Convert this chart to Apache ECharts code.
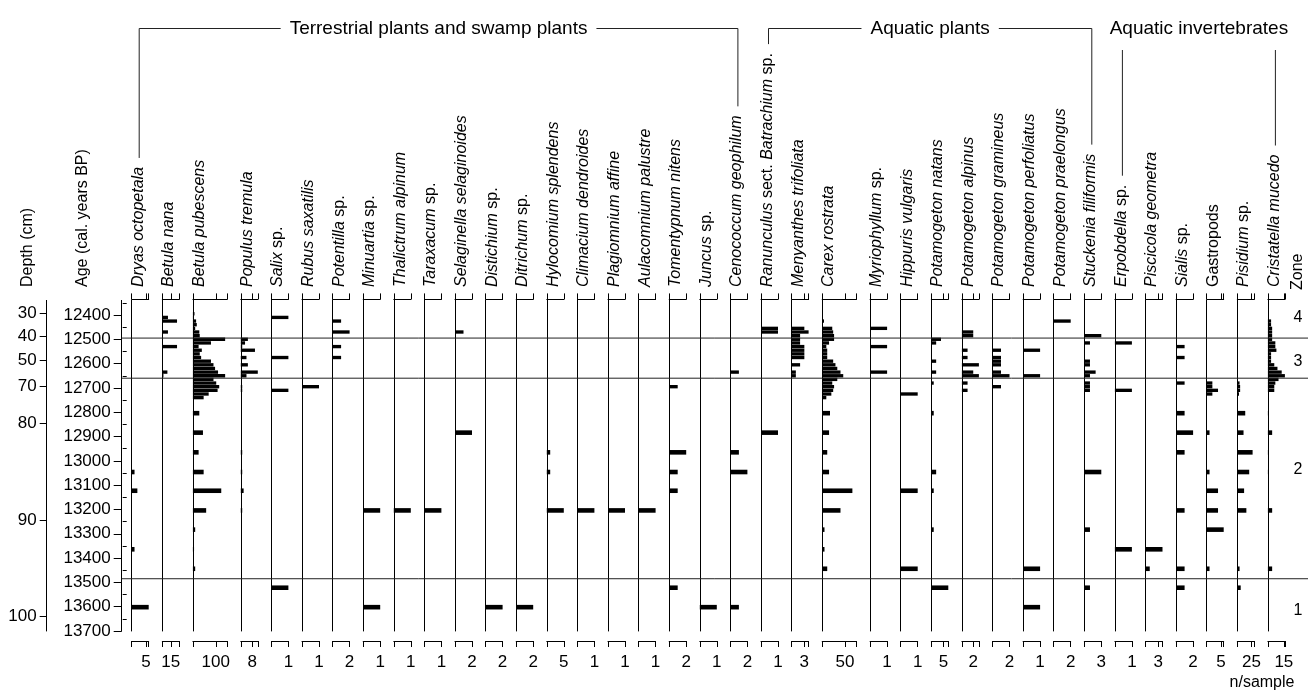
<!DOCTYPE html>
<html>
<head>
<meta charset="utf-8">
<script src="https://cdn.jsdelivr.net/npm/echarts@6/dist/echarts.min.js"></script>
<style>
  html, body { margin: 0; padding: 0; background: #fff; }
  #chart { width: 1316px; height: 691px; }
</style>
</head>
<body>
<div id="chart"></div>
<script>
// ---- Samples (cal. years BP) ----
const sampleAges = [
  12395, 12410, 12425, 12440, 12455, 12470, 12485, 12500, 12515, 12530, 12545, 12560,
  12575, 12590, 12605, 12620, 12635, 12650, 12665, 12680, 12695, 12710, 12725, 12740,
  12804, 12884, 12965, 13046, 13123, 13204, 13283, 13364, 13444, 13522, 13602
];

// ---- Depth scale (cm) and the ages they fall at ----
const depthTicks = [30, 40, 50, 70, 80, 90, 100];
const depthTickAges = [12393, 12489, 12585, 12695, 12845, 13243, 13641];

// ---- Age scale ----
const ageTicks = [12400, 12500, 12600, 12700, 12800, 12900, 13000, 13100, 13200, 13300, 13400, 13500, 13600, 13700];
const ageMinorTicks = [12350, 12450, 12550, 12650, 12750, 12850, 12950, 13050, 13150, 13250, 13350, 13450, 13550, 13650];

// ---- Zones ----
const zoneBoundaries = [12495, 12660, 13485];
const zoneNames = ['4', '3', '2', '1'];
const zoneLabelAges = [12412, 12593, 13038, 13618];

// ---- Taxa (n/sample) ----
const dryasOctopetala = [0,0,0,0,0,0, 0,0,0,0,0,0, 0,0,0,0,0,0, 0,0,0,0,0,0, 0,0,0,1,2,0,0,1,0,0,6];
const betulaNana = [0,10,26,0,0,10, 0,0,0,26,0,0, 0,0,0,0,9,2, 0,0,0,0,0,0, 0,0,0,0,0,0,0,0,0,0,1];
const betulaPubescens = [7,3,14,17,10,28, 30,141,79,25,39,30, 36,79,90,97,110,141, 90,102,115,108,69,47, 28,44,25,47,124,58,10,5,10,0,0];
const populusTremula = [0,0,0,0,0,0, 0,5,3,1,10,0, 4,0,5,0,12,4, 0,0,1,1,0,0, 0,0,1,1,2,1,0,0,0,0,0];
const salix = [0,1,0,0,0,0, 0,0,0,0,0,0, 1,0,0,0,0,0, 0,0,0,1,0,0, 0,0,0,0,0,0,0,0,0,1,0];
const rubusSaxatilis = [0,0,0,0,0,0, 0,0,0,0,0,0, 0,0,0,0,0,0, 0,0,1,0,0,0, 0,0,0,0,0,0,0,0,0,0,0];
const potentilla = [0,0,1,0,0,2, 0,0,0,1,0,0, 1,0,0,0,0,0, 0,0,0,0,0,0, 0,0,0,0,0,0,0,0,0,0,0];
const minuartia = [0,0,0,0,0,0, 0,0,0,0,0,0, 0,0,0,0,0,0, 0,0,0,0,0,0, 0,0,0,0,0,1,0,0,0,0,1];
const thalictrumAlpinum = [0,0,0,0,0,0, 0,0,0,0,0,0, 0,0,0,0,0,0, 0,0,0,0,0,0, 0,0,0,0,0,1,0,0,0,0,0];
const taraxacum = [0,0,0,0,0,0, 0,0,0,0,0,0, 0,0,0,0,0,0, 0,0,0,0,0,0, 0,0,0,0,0,1,0,0,0,0,0];
const selaginella = [0,0,0,0,0,1, 0,0,0,0,0,0, 0,0,0,0,0,0, 0,0,0,0,0,0, 0,2,0,0,0,0,0,0,0,0,0];
const distichium = [0,0,0,0,0,0, 0,0,0,0,0,0, 0,0,0,0,0,0, 0,0,0,0,0,0, 0,0,0,0,0,0,0,0,0,0,2];
const ditrichum = [0,0,0,0,0,0, 0,0,0,0,0,0, 0,0,0,0,0,0, 0,0,0,0,0,0, 0,0,0,0,0,0,0,0,0,0,2];
const hylocomium = [0,0,0,0,0,0, 0,0,0,0,0,0, 0,0,0,0,0,0, 0,0,0,0,0,0, 0,0,1,1,0,5,0,0,0,0,0];
const climacium = [0,0,0,0,0,0, 0,0,0,0,0,0, 0,0,0,0,0,0, 0,0,0,0,0,0, 0,0,0,0,0,1,0,0,0,0,0];
const plagiomnium = [0,0,0,0,0,0, 0,0,0,0,0,0, 0,0,0,0,0,0, 0,0,0,0,0,0, 0,0,0,0,0,1,0,0,0,0,0];
const aulacomnium = [0,0,0,0,0,0, 0,0,0,0,0,0, 0,0,0,0,0,0, 0,0,0,0,0,0, 0,0,0,0,0,1,0,0,0,0,0];
const tomentypnum = [0,0,0,0,0,0, 0,0,0,0,0,0, 0,0,0,0,0,0, 0,0,1,0,0,0, 0,0,2,1,1,0,0,0,0,1,0];
const juncus = [0,0,0,0,0,0, 0,0,0,0,0,0, 0,0,0,0,0,0, 0,0,0,0,0,0, 0,0,0,0,0,0,0,0,0,0,1];
const cenococcum = [0,0,0,0,0,0, 0,0,0,0,0,0, 0,0,0,0,1,0, 0,0,0,0,0,0, 0,0,1,2,0,0,0,0,0,0,1];
const ranunculus = [0,0,0,0,1,1, 0,0,0,0,0,0, 0,0,0,0,0,0, 0,0,0,0,0,0, 0,1,0,0,0,0,0,0,0,0,0];
const menyanthes = [0,0,0,0,3,4, 2,2,2,3,3,3, 3,0,2,0,1,1, 0,0,0,0,0,0, 0,0,0,0,0,0,0,0,0,0,0];
const carexRostrata = [0,0,4,0,22,24, 26,26,15,9,11,11, 11,24,29,33,40,46, 33,22,26,24,20,9, 17,15,11,15,66,40,5,5,11,0,0];
const myriophyllum = [0,0,0,0,1,0, 0,0,0,1,0,0, 0,0,0,0,1,0, 0,0,0,0,0,0, 0,0,0,0,0,0,0,0,0,0,0];
const hippuris = [0,0,0,0,0,0, 0,0,0,0,0,0, 0,0,0,0,0,0, 0,0,0,0,1,0, 0,0,0,0,1,0,0,0,1,0,0];
const potNatans = [0,0,0,0,0,0, 0,4,2,0,0,0, 0,2,0,0,2,0, 0,1,0,0,0,0, 1,0,0,2,1,0,1,0,0,7,0];
const potAlpinus = [0,0,0,0,0,2, 2,0,0,0,1,0, 1,0,3,0,2,3, 0,1,0,1,0,0, 0,0,0,0,0,0,0,0,0,0,0];
const potGramineus = [0,0,0,0,0,0, 0,0,0,0,1,0, 1,1,1,0,1,2, 0,0,1,0,0,0, 0,0,0,0,0,0,0,0,0,0,0];
const potPerfoliatus = [0,0,0,0,0,0, 0,0,0,0,1,0, 0,0,0,0,0,1, 0,0,0,0,0,0, 0,0,0,0,0,0,0,0,1,0,1];
const potPraelongus = [0,0,2,0,0,0, 0,0,0,0,0,0, 0,0,0,0,0,0, 0,0,0,0,0,0, 0,0,0,0,0,0,0,0,0,0,0];
const stuckenia = [0,0,0,0,0,0, 3,0,1,0,0,0, 0,1,1,0,2,1, 0,1,1,1,0,0, 0,0,0,3,0,0,1,0,0,1,0];
const erpobdella = [0,0,0,0,0,0, 0,0,1,0,0,0, 0,0,0,0,0,0, 0,0,0,1,0,0, 0,0,0,0,0,0,0,1,0,0,0];
const piscicola = [0,0,0,0,0,0, 0,0,0,0,0,0, 0,0,0,0,0,0, 0,0,0,0,0,0, 0,0,0,0,0,0,0,4,1,0,0];
const sialis = [0,0,0,0,0,0, 0,0,0,1,0,0, 1,0,0,0,0,0, 0,1,0,0,0,0, 1,2,1,0,0,1,0,0,1,1,0];
const gastropods = [0,0,0,0,0,0, 0,0,0,0,0,0, 0,0,0,0,0,0, 0,2,2,4,2,0, 0,1,0,1,4,4,6,0,1,0,0];
const pisidium = [0,0,0,0,0,0, 0,0,0,0,0,0, 0,0,0,0,0,0, 0,4,5,5,3,0, 14,11,27,21,12,16,0,0,4,6,0];
const cristatella = [0,0,3,3,4,4, 4,4,7,7,8,3, 3,3,6,9,13,16, 10,7,6,6,0,0, 1,4,1,1,0,4,0,0,4,0,0];

const taxonLabels = [
  '{i|Dryas octopetala}', '{i|Betula nana}', '{i|Betula pubescens}', '{i|Populus tremula}',
  '{i|Salix} sp.', '{i|Rubus saxatilis}', '{i|Potentilla} sp.', '{i|Minuartia} sp.',
  '{i|Thalictrum alpinum}', '{i|Taraxacum} sp.', '{i|Selaginella selaginoides}', '{i|Distichium} sp.',
  '{i|Ditrichum} sp.', '{i|Hylocomium splendens}', '{i|Climacium dendroides}', '{i|Plagiomnium affine}',
  '{i|Aulacomnium palustre}', '{i|Tomentypnum nitens}', '{i|Juncus} sp.', '{i|Cenococcum geophilum}',
  '{i|Ranunculus} sect. {i|Batrachium} sp.', '{i|Menyanthes trifoliata}', '{i|Carex rostrata}', '{i|Myriophyllum} sp.',
  '{i|Hippuris vulgaris}', '{i|Potamogeton natans}', '{i|Potamogeton alpinus}', '{i|Potamogeton gramineus}',
  '{i|Potamogeton perfoliatus}', '{i|Potamogeton praelongus}', '{i|Stuckenia filiformis}', '{i|Erpobdella} sp.',
  '{i|Piscicola geometra}', '{i|Sialis} sp.', 'Gastropods', '{i|Pisidium} sp.', '{i|Cristatella mucedo}'
];
const taxonValues = [
  dryasOctopetala, betulaNana, betulaPubescens, populusTremula, salix, rubusSaxatilis, potentilla, minuartia,
  thalictrumAlpinum, taraxacum, selaginella, distichium, ditrichum, hylocomium, climacium, plagiomnium,
  aulacomnium, tomentypnum, juncus, cenococcum, ranunculus, menyanthes, carexRostrata, myriophyllum,
  hippuris, potNatans, potAlpinus, potGramineus, potPerfoliatus, potPraelongus, stuckenia, erpobdella,
  piscicola, sialis, gastropods, pisidium, cristatella
];
// labelled tick and full-scale value of each column
const taxonTicks = [5,15,100,8,1,1,2,1, 1,1,2,2,2,5,1,1, 1,2,1,2,1,3,50,1, 1,5,2,2,1,2,3,1, 3,2,5,25,15];
const taxonMax   = [6,30,150,12,1,1,2,1, 1,1,2,2,2,5,1,1, 1,2,1,2,1,4,75,1, 1,7,3,2,1,2,3,1, 4,2,6,30,16];

const groupTitles = ['Terrestrial plants and swamp plants', 'Aquatic plants', 'Aquatic invertebrates'];
const groupSpans = [[0, 19], [20, 30], [31, 36]];

// ---- Layout ----
const AGE_MIN = 12340, AGE_MAX = 13700;
const PLOT_TOP = 300.4, PLOT_H = 330.6;
const FIRST_X = 131.7, NARROW = 17, WIDE = 34.3, GAP = 13.6;
const wideColumns = [2, 22];
const LABEL_BASE_Y = 287;
const HEAD_Y = 28.5;
const FONT = '"Liberation Sans", Arial, Helvetica, sans-serif';
const INK = '#000';

const colWidth = i => (wideColumns.indexOf(i) >= 0 ? WIDE : NARROW);
const colLeft = [];
{
  let x = FIRST_X;
  taxonLabels.forEach((_, i) => { colLeft.push(x); x += colWidth(i) + GAP; });
}

// bar thickness follows local sample spacing
const pxPerYear = PLOT_H / (AGE_MAX - AGE_MIN);
const barHeight = sampleAges.map((a, k) => {
  const gaps = [];
  if (k > 0) gaps.push(a - sampleAges[k - 1]);
  if (k < sampleAges.length - 1) gaps.push(sampleAges[k + 1] - a);
  return Math.min(4.6, Math.min.apply(null, gaps) * pxPerYear * 0.92);
});

// text measuring for header brackets
const mctx = document.createElement('canvas').getContext('2d');
function textWidth(str, size, italic) {
  mctx.font = (italic ? 'italic ' : '') + size + 'px "Liberation Sans"';
  return mctx.measureText(str).width;
}
function richWidth(label, size) {
  let w = 0;
  label.replace(/\{i\|([^}]*)\}|([^{]+)/g, (m, it, pl) => {
    w += it ? textWidth(it, size, true) : textWidth(pl, size, false);
    return m;
  });
  return w;
}

const grids = [], xAxes = [], yAxes = [], series = [], graphics = [];
const hiddenX = g => ({ gridIndex: g, type: 'value', min: 0, max: 1, show: false });
const plainY = (g, extra) => Object.assign({
  gridIndex: g, type: 'value', inverse: true, min: AGE_MIN, max: AGE_MAX,
  splitLine: { show: false }, axisLabel: { show: false }, axisTick: { show: false },
  axisLine: { show: false }
}, extra || {});
const labelStyle = { color: INK, fontFamily: FONT, fontSize: 17 };

// depth axis
grids.push({ left: 46.7, top: PLOT_TOP, width: 1, height: PLOT_H });
xAxes.push(hiddenX(0));
yAxes.push(plainY(0, {
  axisLine: { show: true, lineStyle: { color: INK } },
  axisTick: { show: true, length: 7, customValues: depthTickAges, lineStyle: { color: INK } },
  axisLabel: Object.assign({ show: true, margin: 10, customValues: depthTickAges,
    formatter: v => String(depthTicks[depthTickAges.indexOf(v)]) }, labelStyle)
}));

// age axis
grids.push({ left: 121.7, top: PLOT_TOP, width: 1, height: PLOT_H });
xAxes.push(hiddenX(1));
yAxes.push(plainY(1, {
  axisLine: { show: true, lineStyle: { color: INK } },
  axisTick: { show: true, length: 8, customValues: ageTicks, lineStyle: { color: INK } },
  axisLabel: Object.assign({ show: true, margin: 11, customValues: ageTicks,
    formatter: v => String(v) }, labelStyle)
}));
yAxes.push(plainY(1, {
  axisTick: { show: true, length: 4, customValues: ageMinorTicks, lineStyle: { color: INK } }
}));

// zone boundary overlay
const OVERLAY_RIGHT = 1308;
grids.push({ left: 121.7, top: PLOT_TOP, width: OVERLAY_RIGHT - 121.7, height: PLOT_H });
xAxes.push(hiddenX(2));
yAxes.push(plainY(2));
const overlayY = yAxes.length - 1;

// zone label column
grids.push({ left: 1290, top: PLOT_TOP, width: 16, height: PLOT_H });
xAxes.push(hiddenX(3));
yAxes.push(plainY(3));
const zoneY = yAxes.length - 1;

// taxon columns
taxonLabels.forEach((label, i) => {
  const g = grids.length;
  grids.push({ left: colLeft[i], top: PLOT_TOP, width: colWidth(i), height: PLOT_H });
  const ticks = [0, taxonTicks[i], taxonMax[i]].filter((v, k, a) => a.indexOf(v) === k);
  xAxes.push({
    gridIndex: g, type: 'value', min: 0, max: taxonMax[i], position: 'top', offset: 1,
    axisLine: { show: true, onZero: false, lineStyle: { color: INK } },
    axisTick: { show: true, length: 6, customValues: ticks, lineStyle: { color: INK } },
    axisLabel: { show: false }, splitLine: { show: false }
  });
  xAxes.push({
    gridIndex: g, type: 'value', min: 0, max: taxonMax[i], position: 'bottom', offset: 10,
    axisLine: { show: true, onZero: false, lineStyle: { color: INK } },
    axisTick: { show: true, length: 6, customValues: ticks, lineStyle: { color: INK } },
    axisLabel: Object.assign({ show: true, margin: 13, customValues: [taxonTicks[i]],
      formatter: v => String(v) }, labelStyle),
    splitLine: { show: false }
  });
  const yi = yAxes.length;
  yAxes.push(plainY(g, { axisLine: { show: true, onZero: false, lineStyle: { color: INK } } }));
  const vals = taxonValues[i];
  series.push({
    type: 'custom', xAxisIndex: xAxes.length - 1, yAxisIndex: yi, silent: true, clip: false,
    data: sampleAges.map((a, k) => [vals[k], a, k]).filter(d => d[0] > 0),
    encode: { x: 0, y: 1 },
    renderItem: (params, api) => {
      const v = api.value(0), a = api.value(1), h = barHeight[api.value(2)];
      const p0 = api.coord([0, a]), p1 = api.coord([v, a]);
      return { type: 'rect', shape: { x: p0[0], y: p0[1] - h / 2, width: p1[0] - p0[0], height: h },
        style: { fill: INK } };
    }
  });
  // rotated taxon name
  graphics.push({
    type: 'text', x: colLeft[i] - 1.5, y: LABEL_BASE_Y, rotation: Math.PI / 2, silent: true,
    style: {
      text: label, fill: INK, fontFamily: FONT, fontSize: 16,
      align: 'left', verticalAlign: 'top', textAlign: 'left', textVerticalAlign: 'top',
      rich: { i: { fontStyle: 'italic', fontFamily: FONT, fontSize: 16, fill: INK } }
    }
  });
});

// zone boundaries
series.push({
  type: 'custom', xAxisIndex: 2, yAxisIndex: overlayY, silent: true, clip: false, z: 5,
  data: zoneBoundaries.map(a => [0, a]),
  encode: { x: 0, y: 1 },
  renderItem: (params, api) => {
    const a = api.value(1);
    const p0 = api.coord([0, a]), p1 = api.coord([1, a]);
    return { type: 'line', shape: { x1: p0[0], y1: p0[1], x2: p1[0], y2: p1[1] },
      style: { stroke: '#222', lineWidth: 1 } };
  }
});
// zone numbers
series.push({
  type: 'custom', xAxisIndex: 3, yAxisIndex: zoneY, silent: true, clip: false,
  data: zoneLabelAges.map((a, k) => [0.5, a, k]),
  encode: { x: 0, y: 1 },
  renderItem: (params, api) => {
    const p = api.coord([api.value(0), api.value(1)]);
    return { type: 'text', x: p[0], y: p[1],
      style: { text: zoneNames[api.value(2)], fill: INK, fontFamily: FONT, fontSize: 16,
        align: 'center', verticalAlign: 'middle', textAlign: 'center', textVerticalAlign: 'middle' } };
  }
});

// axis titles
[['Depth (cm)', 20], ['Age (cal. years BP)', 75], ['Zone', 1290]].forEach(([t, x]) => {
  graphics.push({
    type: 'text', x: x, y: LABEL_BASE_Y + (t === 'Zone' ? 3 : 0), rotation: Math.PI / 2, silent: true,
    style: { text: t, fill: INK, fontFamily: FONT, fontSize: 16,
      align: 'left', verticalAlign: 'top', textAlign: 'left', textVerticalAlign: 'top' }
  });
});
graphics.push({
  type: 'text', x: 1262, y: 683, silent: true,
  style: { text: 'n/sample', fill: INK, fontFamily: FONT, fontSize: 16,
    align: 'center', verticalAlign: 'middle', textAlign: 'center', textVerticalAlign: 'middle' }
});

// group headings with brackets
const DROP_OFFSET = 7.5, DROP_GAP = 9, TITLE_PAD = 9, TITLE_SIZE = 19;
groupTitles.forEach((title, gi) => {
  const [a, b] = groupSpans[gi];
  const xa = colLeft[a] + DROP_OFFSET, xb = colLeft[b] + DROP_OFFSET;
  const ya = LABEL_BASE_Y - richWidth(taxonLabels[a], 16) - DROP_GAP;
  const yb = LABEL_BASE_Y - richWidth(taxonLabels[b], 16) - DROP_GAP;
  const cx = (xa + xb) / 2;
  const tw = textWidth(title, TITLE_SIZE, false);
  graphics.push({
    type: 'text', x: cx, y: HEAD_Y, silent: true,
    style: { text: title, fill: INK, fontFamily: FONT, fontSize: TITLE_SIZE,
      align: 'center', verticalAlign: 'middle', textAlign: 'center', textVerticalAlign: 'middle' }
  });
  const lineStyle = { stroke: '#222', lineWidth: 1, fill: null };
  if (gi < 2) {
    graphics.push({ type: 'polyline', silent: true, shape: { points: [[xa, ya], [xa, HEAD_Y], [cx - tw / 2 - TITLE_PAD, HEAD_Y]] }, style: lineStyle });
    graphics.push({ type: 'polyline', silent: true, shape: { points: [[cx + tw / 2 + TITLE_PAD, HEAD_Y], [xb, HEAD_Y], [xb, yb]] }, style: lineStyle });
  } else {
    graphics.push({ type: 'line', silent: true, shape: { x1: xa, y1: 50, x2: xa, y2: ya }, style: lineStyle });
    graphics.push({ type: 'line', silent: true, shape: { x1: xb, y1: 50, x2: xb, y2: yb }, style: lineStyle });
  }
});

const chart = echarts.init(document.getElementById('chart'), null, { renderer: 'canvas', width: 1316, height: 691 });
chart.setOption({
  animation: false,
  backgroundColor: '#fff',
  grid: grids,
  xAxis: xAxes,
  yAxis: yAxes,
  series: series,
  graphic: { elements: graphics }
});
</script>
</body>
</html>
